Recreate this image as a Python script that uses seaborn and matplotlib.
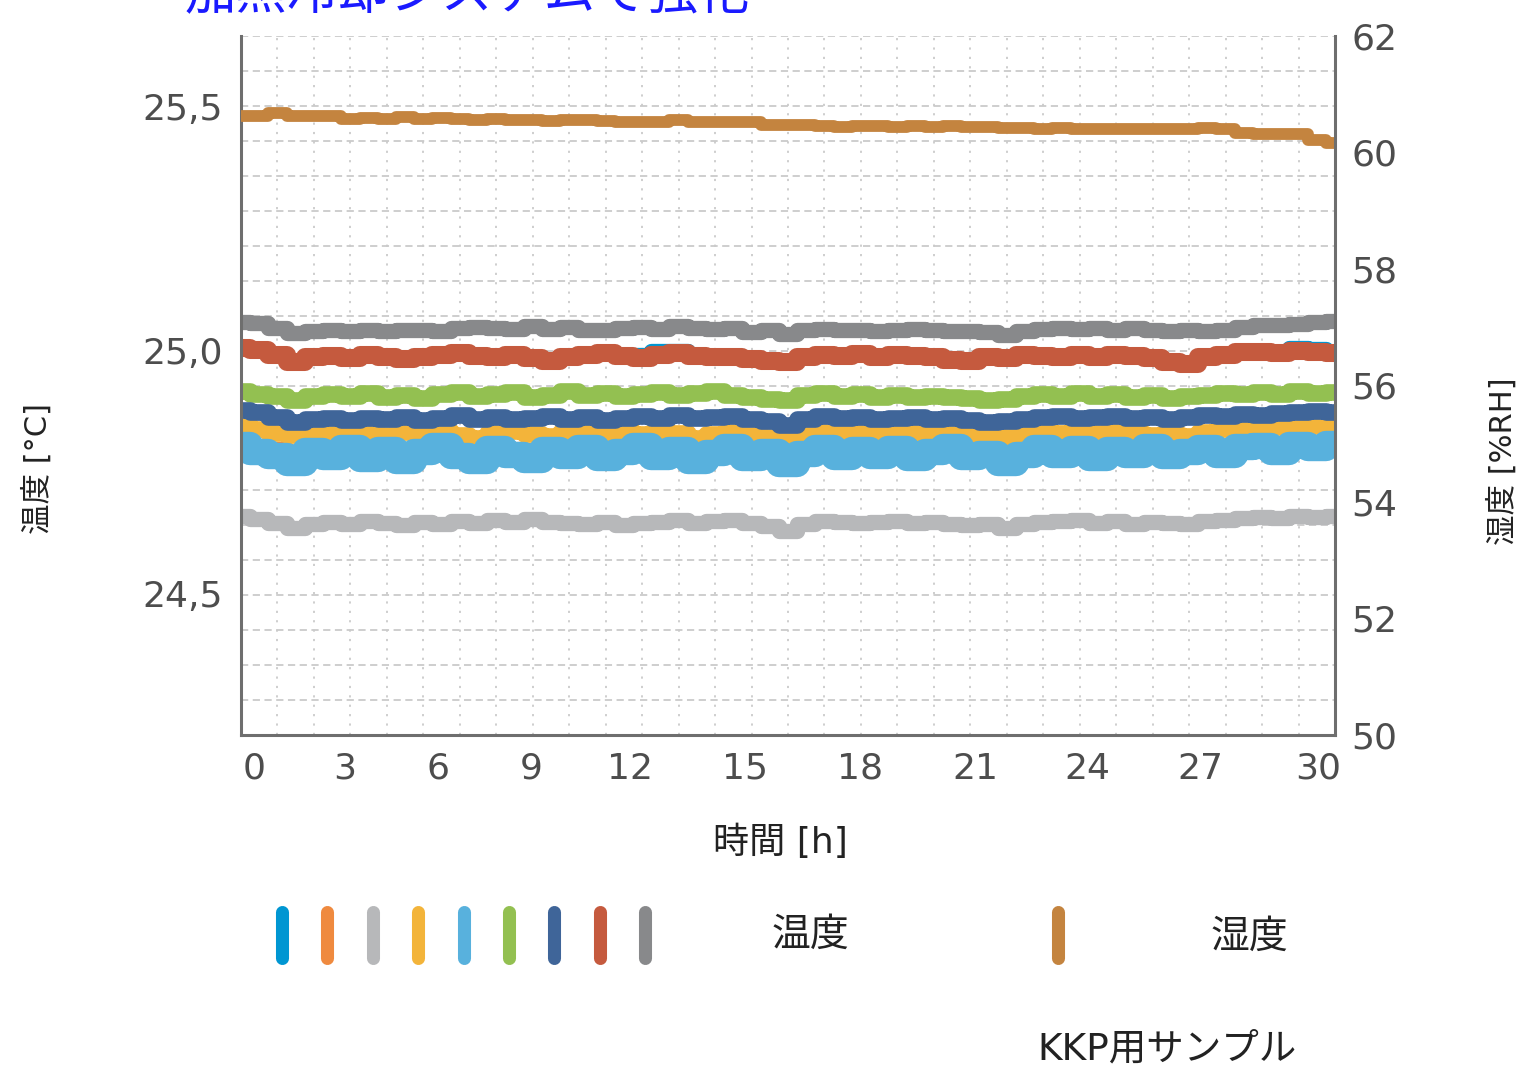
"""
Temperature / humidity stability chart (KKP sample) recreated with seaborn.
"""

import matplotlib
matplotlib.use("Agg")
import matplotlib.pyplot as plt
from matplotlib.lines import Line2D
import numpy as np
import seaborn as sns

sns.set_style("white")
plt.rcParams["font.family"] = ["DejaVu Sans", "Noto Sans CJK JP"]

W, H = 1527, 1068

# sample times [h]
HOURS = [i * 0.5 for i in range(61)]

# temperature sensors [°C], every half hour
T_BLUE = [25.006, 25.002, 24.992, 24.978, 24.987, 24.990, 24.986, 24.992, 24.988, 24.984,
          24.988, 24.992, 24.995, 24.990, 24.988, 24.992, 24.986, 24.980, 24.987, 24.992,
          24.995, 24.990, 24.990, 24.998, 24.999, 24.990, 24.988, 24.987, 24.984, 24.980,
          24.977, 24.987, 24.992, 24.990, 24.994, 24.988, 24.992, 24.990, 24.988, 24.982,
          24.980, 24.988, 24.986, 24.992, 24.990, 24.988, 24.992, 24.988, 24.992, 24.990,
          24.986, 24.977, 24.974, 24.987, 24.992, 24.997, 24.998, 24.996, 25.004, 25.002,
          24.995]
T_ORANGE = [24.805, 24.800, 24.796, 24.790, 24.798, 24.795, 24.800, 24.794, 24.798, 24.792,
            24.798, 24.802, 24.796, 24.792, 24.800, 24.796, 24.794, 24.798, 24.796, 24.800,
            24.794, 24.798, 24.802, 24.796, 24.800, 24.792, 24.796, 24.800, 24.794, 24.798,
            24.788, 24.796, 24.800, 24.794, 24.798, 24.796, 24.800, 24.794, 24.798, 24.800,
            24.794, 24.796, 24.790, 24.796, 24.800, 24.796, 24.800, 24.794, 24.798, 24.796,
            24.800, 24.794, 24.798, 24.800, 24.796, 24.802, 24.804, 24.800, 24.806, 24.804,
            24.806]
T_LIGHTGRAY = [24.658, 24.652, 24.645, 24.634, 24.642, 24.646, 24.642, 24.648, 24.644, 24.640,
               24.646, 24.642, 24.648, 24.644, 24.650, 24.646, 24.652, 24.646, 24.644, 24.642,
               24.646, 24.640, 24.644, 24.646, 24.650, 24.644, 24.648, 24.650, 24.644, 24.638,
               24.628, 24.642, 24.648, 24.646, 24.644, 24.646, 24.648, 24.644, 24.646, 24.642,
               24.640, 24.642, 24.634, 24.642, 24.646, 24.648, 24.650, 24.644, 24.648, 24.642,
               24.646, 24.644, 24.642, 24.648, 24.650, 24.654, 24.656, 24.654, 24.658, 24.656,
               24.658]
T_YELLOW = [24.845, 24.838, 24.830, 24.826, 24.832, 24.828, 24.834, 24.830, 24.826, 24.832,
            24.828, 24.834, 24.825, 24.818, 24.830, 24.834, 24.828, 24.824, 24.832, 24.836,
            24.830, 24.834, 24.828, 24.832, 24.830, 24.820, 24.828, 24.832, 24.826, 24.822,
            24.815, 24.830, 24.834, 24.832, 24.836, 24.830, 24.834, 24.830, 24.833, 24.828,
            24.826, 24.830, 24.822, 24.830, 24.834, 24.830, 24.835, 24.830, 24.834, 24.830,
            24.826, 24.828, 24.824, 24.832, 24.838, 24.840, 24.838, 24.842, 24.840, 24.844,
            24.845]
T_LIGHTBLUE = [24.805, 24.790, 24.782, 24.768, 24.792, 24.780, 24.798, 24.776, 24.794, 24.772,
               24.790, 24.802, 24.782, 24.772, 24.796, 24.784, 24.774, 24.794, 24.782, 24.798,
               24.778, 24.790, 24.802, 24.780, 24.794, 24.772, 24.788, 24.800, 24.778, 24.790,
               24.766, 24.786, 24.798, 24.780, 24.794, 24.782, 24.796, 24.778, 24.790, 24.800,
               24.780, 24.786, 24.768, 24.784, 24.798, 24.784, 24.796, 24.778, 24.794, 24.784,
               24.800, 24.782, 24.790, 24.798, 24.784, 24.800, 24.802, 24.790, 24.804, 24.798,
               24.806]
T_GREEN = [24.915, 24.910, 24.906, 24.898, 24.905, 24.910, 24.906, 24.912, 24.904, 24.908,
           24.902, 24.910, 24.914, 24.906, 24.910, 24.914, 24.904, 24.908, 24.916, 24.908,
           24.912, 24.905, 24.910, 24.914, 24.908, 24.912, 24.916, 24.908, 24.904, 24.900,
           24.898, 24.908, 24.912, 24.906, 24.910, 24.904, 24.908, 24.904, 24.906, 24.904,
           24.902, 24.898, 24.900, 24.906, 24.910, 24.906, 24.912, 24.906, 24.910, 24.904,
           24.908, 24.902, 24.906, 24.908, 24.912, 24.910, 24.914, 24.910, 24.916, 24.912,
           24.914]
T_DARKBLUE = [24.876, 24.872, 24.862, 24.852, 24.858, 24.860, 24.856, 24.860, 24.858, 24.862,
              24.856, 24.860, 24.866, 24.858, 24.862, 24.858, 24.860, 24.864, 24.858, 24.862,
              24.856, 24.860, 24.864, 24.860, 24.866, 24.860, 24.862, 24.864, 24.858, 24.854,
              24.846, 24.858, 24.864, 24.860, 24.862, 24.858, 24.860, 24.862, 24.858, 24.860,
              24.856, 24.852, 24.854, 24.858, 24.862, 24.864, 24.860, 24.862, 24.864, 24.860,
              24.862, 24.858, 24.862, 24.866, 24.864, 24.868, 24.866, 24.870, 24.872, 24.874,
              24.872]
T_RED = [25.004, 25.000, 24.990, 24.975, 24.985, 24.988, 24.984, 24.990, 24.986, 24.982,
         24.986, 24.990, 24.993, 24.988, 24.986, 24.990, 24.984, 24.978, 24.985, 24.990,
         24.993, 24.988, 24.984, 24.990, 24.994, 24.988, 24.986, 24.985, 24.982, 24.978,
         24.975, 24.985, 24.990, 24.988, 24.992, 24.986, 24.990, 24.988, 24.986, 24.980,
         24.978, 24.986, 24.984, 24.990, 24.988, 24.986, 24.990, 24.986, 24.990, 24.988,
         24.984, 24.975, 24.972, 24.985, 24.990, 24.995, 24.996, 24.994, 24.998, 24.995,
         24.993]
T_DARKGRAY = [25.058, 25.055, 25.045, 25.035, 25.040, 25.042, 25.040, 25.041, 25.040, 25.042,
              25.041, 25.040, 25.045, 25.048, 25.046, 25.044, 25.050, 25.043, 25.048, 25.042,
              25.041, 25.045, 25.048, 25.044, 25.050, 25.046, 25.043, 25.046, 25.038, 25.042,
              25.032, 25.041, 25.044, 25.042, 25.041, 25.040, 25.041, 25.044, 25.041, 25.040,
              25.040, 25.038, 25.030, 25.040, 25.043, 25.046, 25.044, 25.045, 25.042, 25.045,
              25.041, 25.040, 25.041, 25.040, 25.042, 25.048, 25.052, 25.051, 25.053, 25.058,
              25.060]

# humidity [%RH]
HUMIDITY = [60.63, 60.63, 60.68, 60.63, 60.63, 60.62, 60.58, 60.60, 60.58, 60.61,
            60.58, 60.60, 60.58, 60.56, 60.57, 60.55, 60.56, 60.54, 60.56, 60.55,
            60.54, 60.52, 60.53, 60.52, 60.55, 60.52, 60.53, 60.53, 60.52, 60.48,
            60.47, 60.47, 60.46, 60.44, 60.46, 60.45, 60.44, 60.46, 60.44, 60.45,
            60.43, 60.44, 60.42, 60.42, 60.41, 60.42, 60.41, 60.40, 60.41, 60.40,
            60.41, 60.40, 60.41, 60.42, 60.41, 60.33, 60.32, 60.32, 60.31, 60.22,
            60.16]

TEMP_SERIES = [T_BLUE, T_ORANGE, T_LIGHTGRAY, T_YELLOW, T_LIGHTBLUE,
               T_GREEN, T_DARKBLUE, T_RED, T_DARKGRAY]
TEMP_COLORS = ["#0096d2", "#ef8a3f", "#b7b8ba", "#f3b43a", "#58b1dd",
               "#93c051", "#3f6599", "#c55a3e", "#88898b"]
TEMP_WIDTHS = [11, 11, 11, 12, 19, 12, 12, 13, 11]
HUM_COLOR = "#c4843f"

XTICK_LABELS = ["0", "3", "6", "9", "12", "15", "18", "21", "24", "27", "30"]
XTICK_POS = [0.36, 2.85, 5.40, 7.95, 10.67, 13.82, 16.97, 20.13, 23.22, 26.32, 29.53]
T_TICKS = [24.5, 25.0, 25.5]
T_TICK_LABELS = ["24,5", "25,0", "25,5"]
H_TICKS = [50, 52, 54, 56, 58, 60, 62]

T_LIM = (24.208, 25.646)
H_LIM = (50, 62)

TICK_COLOR = "#4d4d4d"
SPINE_COLOR = "#6e6e6e"
GRID_COLOR = "#cacaca"


def px_x(x):
    return x / W


def px_y(y):
    return 1 - y / H


fig = plt.figure(figsize=(W / 100, H / 100), dpi=100)
ax = fig.add_axes([px_x(241), px_y(735), (1335 - 241) / W, (735 - 36) / H])
ax2 = ax.twinx()

for vals, col, lw in zip(TEMP_SERIES, TEMP_COLORS, TEMP_WIDTHS):
    sns.lineplot(x=HOURS, y=vals, color=col, lw=lw, drawstyle="steps-mid",
                 solid_capstyle="butt", ax=ax, legend=False)
sns.lineplot(x=HOURS, y=HUMIDITY, color=HUM_COLOR, lw=8.5, drawstyle="steps-mid",
             solid_capstyle="butt", ax=ax2, legend=False)

ax.set_xlim(0, 30)
ax.set_ylim(*T_LIM)
ax2.set_ylim(*H_LIM)

# grid: dotted verticals every hour, dashed horizontals in 20 rows
ax.set_xticks(range(31), minor=True)
ax.set_yticks(np.linspace(T_LIM[0], T_LIM[1], 21), minor=True)
ax.grid(which="minor", axis="x", color=GRID_COLOR, ls=(0, (1.2, 4)), lw=1.3)
ax.grid(which="minor", axis="y", color=GRID_COLOR, ls=(0, (4, 2.5)), lw=1.3)
ax.set_axisbelow(True)

ax.set_xticks(XTICK_POS, XTICK_LABELS)
ax.set_yticks(T_TICKS, T_TICK_LABELS)
ax2.set_yticks(H_TICKS, [str(v) for v in H_TICKS])
ax.tick_params(which="both", length=0)
ax2.tick_params(which="both", length=0)
ax.tick_params(axis="x", labelsize=26, labelcolor=TICK_COLOR, pad=12)
ax.tick_params(axis="y", labelsize=26, labelcolor=TICK_COLOR, pad=13)
ax2.tick_params(axis="y", labelsize=26, labelcolor=TICK_COLOR, pad=12)

for a in (ax, ax2):
    a.spines["top"].set_visible(False)
    for s in ("left", "bottom", "right"):
        a.spines[s].set_color(SPINE_COLOR)
        a.spines[s].set_linewidth(2.2)
ax.spines["right"].set_visible(False)
ax2.spines["left"].set_visible(False)
ax2.spines["bottom"].set_visible(False)

# axis titles
fig.text(px_x(38), px_y(468), "温度 [°C]", rotation=90, ha="center", va="center",
         fontsize=22, color="#222222")
fig.text(px_x(1503), px_y(461), "湿度 [%RH]", rotation=90, ha="center", va="center",
         fontsize=22, color="#222222")
fig.text(px_x(780), px_y(842), "時間 [h]", ha="center", va="center",
         fontsize=26, color="#222222")

# heading, cut off at the top edge as in the source image
fig.text(px_x(185), px_y(9), "加熱冷却システムで強化", ha="left", va="baseline",
         fontsize=37, color="#1a1aff")

# legend swatches
for i, col in enumerate(TEMP_COLORS):
    x = px_x(282 + i * 45.4)
    fig.add_artist(Line2D([x, x], [px_y(958), px_y(912)], transform=fig.transFigure,
                          color=col, lw=9.4, solid_capstyle="round"))
fig.add_artist(Line2D([px_x(1058), px_x(1058)], [px_y(958), px_y(912)],
                      transform=fig.transFigure, color=HUM_COLOR, lw=9.4,
                      solid_capstyle="round"))
fig.text(px_x(810), px_y(935), "温度", ha="center", va="center", fontsize=28, color="#222222")
fig.text(px_x(1249), px_y(937), "湿度", ha="center", va="center", fontsize=28, color="#222222")
fig.text(px_x(1167), px_y(1049), "KKP用サンプル", ha="center", va="center",
         fontsize=27, color="#222222")

fig.savefig("out.png", dpi=100)
